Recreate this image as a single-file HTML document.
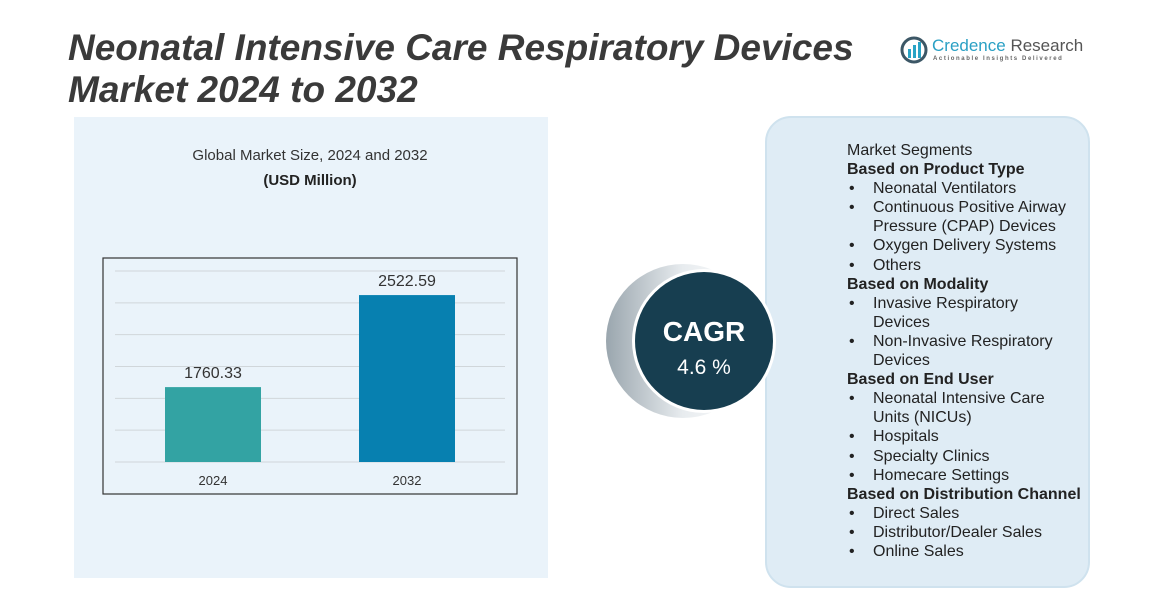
<!DOCTYPE html>
<html><head><meta charset="utf-8"><style>
body{margin:0;width:1152px;height:596px;background:#fff;position:relative;overflow:hidden;font-family:"Liberation Sans",sans-serif;}
.abs{position:absolute;}
.title{left:68px;top:27px;font-size:37px;font-weight:bold;font-style:italic;color:#3a3a3a;line-height:42px;white-space:nowrap;}
.seg{left:765px;top:116px;width:321px;height:468px;border:2px solid #cfe2ee;border-radius:26px;background:#dfecf5;}
.list{left:847px;top:141px;font-size:16px;color:#222;line-height:19.1px;}
.list b{font-weight:bold;}
.li{padding-left:26px;position:relative;}
.li:before{content:"•";position:absolute;left:2px;}
</style></head><body>
<div class="abs" style="left:74px;top:117px;width:474px;height:461px;background:#eaf3fa;"></div>
<div class="abs title">Neonatal Intensive Care Respiratory Devices<br>Market 2024 to 2032</div>
<div class="abs" style="left:900px;top:36px;width:190px;height:30px;">
<svg width="28" height="28" style="position:absolute;left:0;top:0"><circle cx="14" cy="14" r="12" fill="none" stroke="#3c5766" stroke-width="3"/><rect x="8" y="13" width="3" height="9" fill="#29a3c5"/><rect x="13" y="9" width="3" height="13" fill="#29a3c5"/><rect x="18" y="6" width="3" height="16" fill="#29a3c5"/></svg>
<div style="position:absolute;left:32px;top:0;font-size:17px;color:#2aa0c4;white-space:nowrap">Credence <span style="color:#555">Research</span></div>
<div style="position:absolute;left:33px;top:20px;font-size:6px;letter-spacing:1.6px;color:#666;white-space:nowrap;font-weight:bold">Actionable Insights Delivered</div>
</div>
<div class="abs" style="left:120px;top:147px;width:380px;text-align:center;font-size:15px;color:#333;">Global Market Size, 2024 and 2032</div>
<div class="abs" style="left:120px;top:172px;width:380px;text-align:center;font-size:15px;font-weight:bold;color:#222;">(USD Million)</div>
<svg class="abs" style="left:0;top:0" width="1152" height="596">
<rect x="103" y="258" width="414" height="236" fill="none" stroke="#333" stroke-width="1.2"/>
<g id="grid"></g><g id="bars"></g>
</svg>
<div class="abs seg"></div>
<svg class="abs" style="left:0;top:0" width="1152" height="596">
<defs><linearGradient id="gg" x1="0" x2="1"><stop offset="0" stop-color="#9aa6ae"/><stop offset="0.5" stop-color="#e8ecef"/><stop offset="1" stop-color="#fff"/></linearGradient></defs>
<circle cx="683" cy="341" r="77" fill="url(#gg)"/>
<circle cx="704" cy="341" r="72" fill="#fff"/>
<circle cx="704" cy="341" r="69" fill="#173e50"/>
<text x="704" y="341" text-anchor="middle" font-size="28" font-weight="bold" fill="#fff" font-family="Liberation Sans">CAGR</text>
<text x="704" y="374" text-anchor="middle" font-size="21" fill="#fff" font-family="Liberation Sans">4.6 %</text>
</svg>
<div class="abs list">
<div>Market Segments</div>
<div><b>Based on Product Type</b></div>
<div class="li">Neonatal Ventilators</div>
<div class="li">Continuous Positive Airway<br>Pressure (CPAP) Devices</div>
<div class="li">Oxygen Delivery Systems</div>
<div class="li">Others</div>
<div><b>Based on Modality</b></div>
<div class="li">Invasive Respiratory<br>Devices</div>
<div class="li">Non-Invasive Respiratory<br>Devices</div>
<div><b>Based on End User</b></div>
<div class="li">Neonatal Intensive Care<br>Units (NICUs)</div>
<div class="li">Hospitals</div>
<div class="li">Specialty Clinics</div>
<div class="li">Homecare Settings</div>
<div><b>Based on Distribution Channel</b></div>
<div class="li">Direct Sales</div>
<div class="li">Distributor/Dealer Sales</div>
<div class="li">Online Sales</div>
</div>
<script>
const categories=["2024","2032"];
const values=[1760.33,2522.59];
const labels=["1760.33","2522.59"];
const colors=["#33a3a3","#0780b0"];
const yMin=1140,yMax=2722,y0=462,y1=271;
const y=v=>y0-(v-yMin)/(yMax-yMin)*(y0-y1);
const x=i=>165+i*194;
const ns="http://www.w3.org/2000/svg";
const g=document.getElementById('grid'),b=document.getElementById('bars');
for(let k=0;k<=6;k++){const yy=y0-k*(y0-y1)/6;const l=document.createElementNS(ns,'line');


l.setAttribute('x1',115);l.setAttribute('x2',505);l.setAttribute('y1',yy);l.setAttribute('y2',yy);l.setAttribute('stroke','#d0d6da');g.appendChild(l);}
values.forEach((v,i)=>{const r=document.createElementNS(ns,'rect');


r.setAttribute('x',x(i));r.setAttribute('width',96);r.setAttribute('y',y(v));r.setAttribute('height',y0-y(v));r.setAttribute('fill',colors[i]);b.appendChild(r);
const t=document.createElementNS(ns,'text');


t.setAttribute('x',x(i)+48);t.setAttribute('y',y(v)-9);t.setAttribute('text-anchor','middle');t.setAttribute('font-size','16');t.setAttribute('fill','#333');t.setAttribute('font-family','Liberation Sans');t.textContent=labels[i];b.appendChild(t);
const c=document.createElementNS(ns,'text');


c.setAttribute('x',x(i)+48);c.setAttribute('y',485);c.setAttribute('text-anchor','middle');c.setAttribute('font-size','13');c.setAttribute('fill','#333');c.setAttribute('font-family','Liberation Sans');c.textContent=categories[i];b.appendChild(c);});
</script>
</body></html>
